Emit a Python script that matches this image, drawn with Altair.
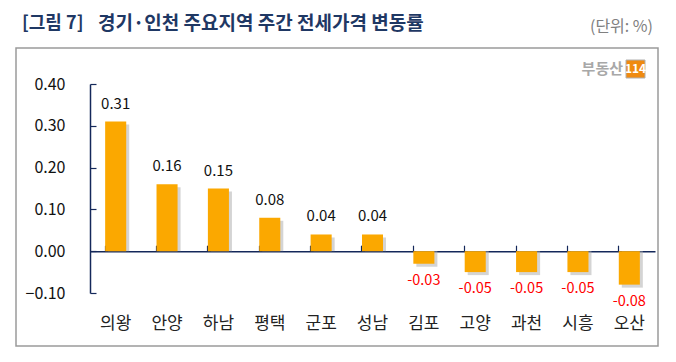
import altair as alt
import pandas as pd

regions = ["의왕", "안양", "하남", "평택", "군포", "성남", "김포", "고양", "과천", "시흥", "오산"]
changes = [0.31, 0.16, 0.15, 0.08, 0.04, 0.04, -0.03, -0.05, -0.05, -0.05, -0.08]
y_ticks = [-0.10, 0.00, 0.10, 0.20, 0.30, 0.40]

fig_label = "[그림 7]"
title_text = "경기·인천 주요지역 주간 전세가격 변동률"
unit_text = "(단위: %)"

df = pd.DataFrame({"region": regions, "value": changes})
df["label"] = df["value"].map(lambda v: f"{v:.2f}")

W, H = 565, 209
FONT = "Noto Sans CJK KR"
NAVY = "#14285a"

xs = alt.Scale(domain=regions, paddingInner=0.59, paddingOuter=0.295)
ys = alt.Scale(domain=[-0.1, 0.4], nice=False, zero=False)

base = alt.Chart(df)

shadow = base.mark_bar(xOffset=3, yOffset=3, color="#b0b0b0", opacity=0.55).encode(
    x=alt.X("region:N", scale=xs, sort=regions, axis=None),
    y=alt.Y("value:Q", scale=ys, axis=None),
    y2=alt.datum(0),
)

bars = base.mark_bar(color="#FBA800").encode(
    x=alt.X("region:N", scale=xs, sort=regions,
            axis=alt.Axis(orient="bottom", title=None, labelAngle=0, domain=False,
                          ticks=False, labelFontSize=17, labelColor="#222222",
                          labelFont=FONT, labelPadding=22)),
    y=alt.Y("value:Q", scale=ys,
            axis=alt.Axis(orient="left", title=None, values=y_ticks, format=".2f",
                          domain=False, ticks=False, grid=False, labelFontSize=16,
                          labelColor="#111111", labelFont=FONT, labelPadding=25)),
    y2=alt.datum(0),
)

guides = base.mark_point(opacity=0).encode(
    x=alt.X("region:N", scale=xs, sort=regions,
            axis=alt.Axis(orient="top", offset=-H * 0.8, title=None, labels=False,
                          domain=True, domainColor=NAVY, domainWidth=1.5,
                          ticks=True, tickColor=NAVY, tickSize=6, tickWidth=1.2,
                          bandPosition=0, grid=False)),
    y=alt.Y("value:Q", scale=ys,
            axis=alt.Axis(orient="right", offset=-W, title=None, labels=False,
                          values=y_ticks, domain=True, domainColor=NAVY,
                          domainWidth=1.5, ticks=True, tickColor=NAVY, tickSize=6,
                          tickWidth=1.2, grid=False)),
)

pos_labels = base.transform_filter("datum.value >= 0").mark_text(
    fontSize=15, font=FONT, color="#111111", baseline="middle", dy=-18
).encode(
    x=alt.X("region:N", scale=xs, sort=regions, axis=None),
    y=alt.Y("value:Q", scale=ys, axis=None),
    text="label:N",
)

neg_labels = base.transform_filter("datum.value < 0").mark_text(
    fontSize=14.5, font=FONT, color="#ff0000", baseline="middle", dy=17
).encode(
    x=alt.X("region:N", scale=xs, sort=regions, axis=None),
    y=alt.Y("value:Q", scale=ys, axis=None),
    text="label:N",
)

one = pd.DataFrame({"a": [0]})
ann = alt.Chart(one)

frame = ann.mark_rect(fill=None, fillOpacity=0, stroke="#9a9a9a", strokeWidth=1.5).encode(
    x=alt.value(-74), x2=alt.value(568), y=alt.value(-36), y2=alt.value(262)
)

fig_txt = ann.mark_text(align="left", baseline="middle", fontSize=18, fontWeight="bold",
                        font=FONT, color="#1f3864").encode(
    x=alt.value(-68), y=alt.value(-60), text=alt.value(fig_label)
)

title = ann.mark_text(align="left", baseline="middle", fontSize=19, fontWeight="bold",
                      font=FONT, color="#1f3864").encode(
    x=alt.value(8), y=alt.value(-60), text=alt.value(title_text)
)

unit = ann.mark_text(align="right", baseline="middle", fontSize=16, font=FONT,
                     color="#808080").encode(
    x=alt.value(563), y=alt.value(-57), text=alt.value(unit_text)
)

logo_txt = ann.mark_text(align="right", baseline="middle", fontSize=15, fontWeight="bold",
                         font=FONT, color="#a8a8a8").encode(
    x=alt.value(533), y=alt.value(-15), text=alt.value("부동산")
)
logo_box = ann.mark_rect(color="#ef8a10", stroke="#b0b0b0", strokeWidth=1).encode(
    x=alt.value(536), x2=alt.value(555), y=alt.value(-24), y2=alt.value(-6)
)
logo_num = ann.mark_text(align="center", baseline="middle", fontSize=12, fontWeight="bold",
                         font=FONT, color="white").encode(
    x=alt.value(545.5), y=alt.value(-15), text=alt.value("114")
)

chart = alt.layer(
    frame, shadow, bars, guides, pos_labels, neg_labels, fig_txt, title, unit,
    logo_box, logo_txt, logo_num
).resolve_axis(x="independent", y="independent").properties(
    width=W, height=H,
    autosize=alt.AutoSizeParams(type="none"),
    padding={"left": 82, "top": 76, "right": 13, "bottom": 60},
    background="white",
).configure_view(stroke=None)

chart.save("out.html", embed_options={"renderer": "svg", "actions": False})
